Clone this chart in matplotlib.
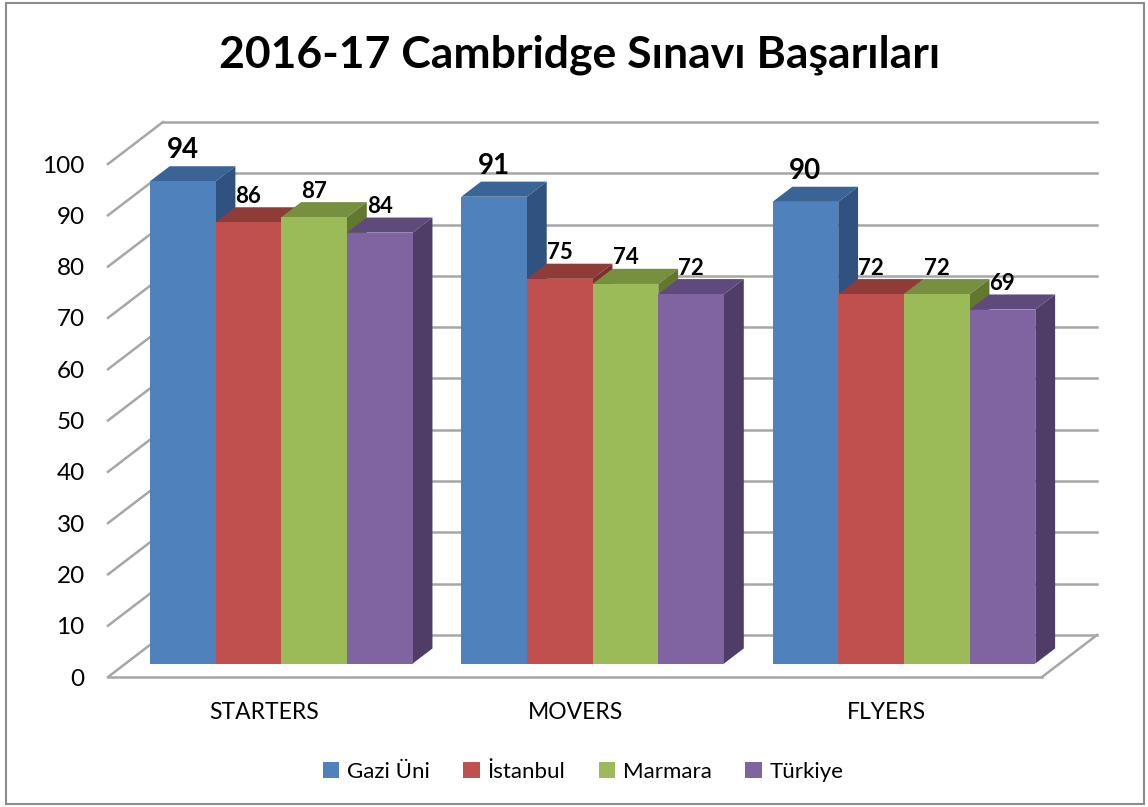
import numpy as np
import matplotlib.pyplot as plt
from matplotlib.patches import Polygon, Patch, Rectangle

plt.rcParams['font.family'] = ['Lato', 'DejaVu Sans']

# Veriler
kategoriler = ['STARTERS', 'MOVERS', 'FLYERS']
seriler = ['Gazi Üni', 'İstanbul', 'Marmara', 'Türkiye']
gazi = [94, 91, 90]
istanbul = [86, 75, 72]
marmara = [87, 74, 72]
turkiye = [84, 72, 69]
degerler = [gazi, istanbul, marmara, turkiye]
y_ticks = list(range(0, 101, 10))

renk_on = ['#4F81BD', '#C0504D', '#9BBB59', '#8064A2']
renk_ust = ['#3B6496', '#8F3B38', '#76903F', '#5F4A7D']
renk_yan = ['#2F5280', '#7A302E', '#62782F', '#4F3D68']

# 3B görünüm için derinlik kaydırması (veri birimleri)
DX = 0.1767
DY = 8.19
f0, f1 = 0.32, 0.68
BW = 0.211

fig = plt.figure(figsize=(11.48, 8.07), dpi=100)
ax = fig.add_axes([100 / 1148, 0.1425, 1010 / 1148, 0.7212])
ax.set_xlim(-0.5257, 2.7184)
ax.set_ylim(-2.924, 110.53)
for s in ax.spines.values():
    s.set_visible(False)
ax.set_xticks([])
ax.set_yticks(y_ticks)
ax.tick_params(axis='y', length=0, pad=11, labelsize=17.5)

grid_c = '#A6A6A6'
x0, x1 = -0.5, 2.5
for v in y_ticks:
    ax.plot([x0 + DX, x1 + DX], [v + DY, v + DY], color=grid_c, lw=1.8, zorder=1)
    ax.plot([x0, x0 + DX], [v, v + DY], color=grid_c, lw=1.8, zorder=1)
ax.plot([x0, x1], [0, 0], color=grid_c, lw=1.8, zorder=1)
ax.plot([x1, x1 + DX], [0, DY], color=grid_c, lw=1.8, zorder=1)


def kutu(x, h, i, z):
    bx, by = f0 * DX, f0 * DY
    ex, ey = (f1 - f0) * DX, (f1 - f0) * DY
    xl, xr = x + bx, x + bx + BW
    yb, yt = by, by + h
    ust = [(xl, yt), (xr, yt), (xr + ex, yt + ey), (xl + ex, yt + ey)]
    yan = [(xr, yb), (xr + ex, yb + ey), (xr + ex, yt + ey), (xr, yt)]
    on = [(xl, yb), (xr, yb), (xr, yt), (xl, yt)]
    ax.add_patch(Polygon(ust, closed=True, fc=renk_ust[i], ec='none', zorder=z))
    ax.add_patch(Polygon(yan, closed=True, fc=renk_yan[i], ec='none', zorder=z))
    ax.add_patch(Polygon(on, closed=True, fc=renk_on[i], ec='none', zorder=z))
    fs = 20 if i == 0 else 16
    off = 0.6 if i == 0 else 0.1
    ax.text(xl + BW / 2, yt + ey + off, str(h), ha='center', va='bottom',
            fontsize=fs, fontweight='bold', zorder=z + 1)


z = 3
for k in range(len(kategoriler)):
    for i in range(len(seriler)):
        kutu(k - 2 * BW + i * BW, degerler[i][k], i, z)
        z += 2
    ax.text(k, -7.0, kategoriler[k], ha='center', va='center', fontsize=16.5, clip_on=False)

fig.text(0.505, 1 - 55 / 807, '2016-17 Cambridge Sınavı Başarıları', ha='center', va='center',
         fontsize=32, fontweight='bold')

tutamaclar = [Patch(fc=renk_on[i], ec='none', label=seriler[i]) for i in range(4)]
fig.legend(handles=tutamaclar, loc='center', bbox_to_anchor=(0.508, 1 - 772 / 807), ncol=4,
           frameon=False, fontsize=16, handlelength=0.75, handleheight=0.75,
           handletextpad=0.35, columnspacing=1.5)

fig.add_artist(Rectangle((6 / 1148, 3 / 807), 1 - 10 / 1148, 1 - 6 / 807, transform=fig.transFigure,
                         fill=False, ec='#8C8C8C', lw=1.5))

fig.savefig('out.png', dpi=100)
